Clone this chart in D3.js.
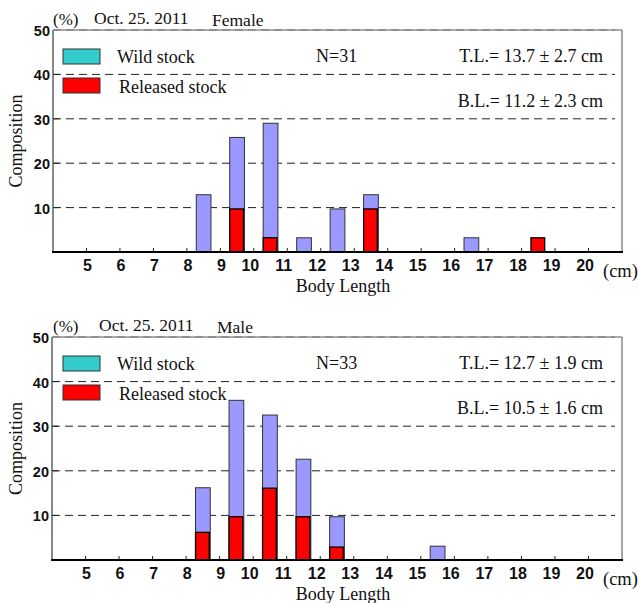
<!DOCTYPE html>
<html>
<head>
<meta charset="utf-8">
<script src="https://cdnjs.cloudflare.com/ajax/libs/d3/7.8.5/d3.min.js"></script>
<style>
  body { margin: 0; background: #fff; }
  text.serif { font-family: "Liberation Serif", "Times New Roman", Times, "DejaVu Serif", serif; fill: #111; }
  text.sans { font-family: "Liberation Sans", Arial, Helvetica, sans-serif; font-weight: bold; fill: #111; }
</style>
</head>
<body>
<div id="chart"></div>
<script>
var svgWidth = 638;
var svgHeight = 603;

// body length classes (lower edge, cm)
var tickValues = [5, 6, 7, 8, 9, 10, 11, 12, 13, 14, 15, 16, 17, 18, 19, 20];
var yTicks = [10, 20, 30, 40, 50];

// female, Oct. 25. 2011 (N=31)
var femaleBins = [8, 9, 10, 11, 12, 13, 16];
var femaleTotal = [12.9, 25.8, 29.0, 3.2, 9.7, 12.9, 3.2];
var femaleRelBins = [9, 10, 13, 18];
var femaleReleased = [9.7, 3.2, 9.7, 3.2];

// male, Oct. 25. 2011 (N=33)
var maleBins = [8, 9, 10, 11, 12, 15];
var maleTotal = [16.2, 35.8, 32.5, 22.6, 9.7, 3.1];
var maleRelBins = [8, 9, 10, 11, 12];
var maleReleased = [6.2, 9.7, 16.1, 9.7, 2.9];

var svg = d3.select("#chart")
  .append("svg")
  .attr("width", svgWidth)
  .attr("height", svgHeight);

function serifText(g, size) {
  return g.append("text")
    .attr("class", "serif")
    .style("font-size", size + "px");
}

function drawPanel(p) {
  var x = d3.scaleLinear().domain([4, 21]).range([p.left, 622]);
  var y = d3.scaleLinear().domain([0, 50]).range([p.bottom, p.top]);
  var g = svg.append("g");

  // top border
  g.append("line")
    .attr("x1", p.left).attr("x2", 622)
    .attr("y1", y(50)).attr("y2", y(50))
    .attr("stroke", "#aaa").attr("stroke-width", 2);

  // dashed grid
  g.selectAll(".grid")
    .data(yTicks)
    .enter()
    .append("line")
    .attr("x1", p.left).attr("x2", 615)
    .attr("y1", d => y(d)).attr("y2", d => y(d))
    .attr("stroke", d => d === 50 ? "#777" : "#222")
    .attr("stroke-width", 1)
    .attr("stroke-dasharray", "8,5");

  // total bars (blue)
  var totals = p.bins.map((b, i) => ({ b: b, v: p.total[i] }));
  g.selectAll(".tot")
    .data(totals)
    .enter()
    .append("rect")
    .attr("x", d => x(d.b + 0.28))
    .attr("width", d => x(d.b + 0.72) - x(d.b + 0.28))
    .attr("y", d => y(d.v))
    .attr("height", d => y(0) - y(d.v))
    .attr("fill", "#9999ff")
    .attr("stroke", "#333")
    .attr("stroke-width", 1);

  // released bars (red)
  var rel = p.relBins.map((b, i) => ({ b: b, v: p.released[i] }));
  g.selectAll(".rel")
    .data(rel)
    .enter()
    .append("rect")
    .attr("x", d => x(d.b + 0.28))
    .attr("width", d => x(d.b + 0.69) - x(d.b + 0.28))
    .attr("y", d => y(d.v))
    .attr("height", d => y(0) - y(d.v))
    .attr("fill", "#ff0000")
    .attr("stroke", "#000")
    .attr("stroke-width", 1.3);

  // left axis
  g.append("line")
    .attr("x1", p.left).attr("x2", p.left)
    .attr("y1", y(50)).attr("y2", y(0))
    .attr("stroke", "#888").attr("stroke-width", 2);
  // right border
  g.append("line")
    .attr("x1", 622).attr("x2", 622)
    .attr("y1", y(50)).attr("y2", y(0))
    .attr("stroke", "#888").attr("stroke-width", 1.5);

  // y ticks and labels
  g.selectAll(".ytick")
    .data(yTicks.slice(0, 4))
    .enter()
    .append("line")
    .attr("x1", p.left).attr("x2", p.left + 6)
    .attr("y1", d => y(d)).attr("y2", d => y(d))
    .attr("stroke", "#222");
  g.selectAll(".ylab")
    .data(yTicks)
    .enter()
    .append("text")
    .attr("class", "sans")
    .attr("x", p.left - 3)
    .attr("y", d => y(d) + 6)
    .attr("text-anchor", "end")
    .style("font-size", "14.5px")
    .text(d => d);

  // bottom axis
  g.append("line")
    .attr("x1", p.left - 1).attr("x2", 623)
    .attr("y1", y(0)).attr("y2", y(0))
    .attr("stroke", "#000").attr("stroke-width", 2);
  g.selectAll(".xtick")
    .data(tickValues)
    .enter()
    .append("line")
    .attr("x1", d => x(d)).attr("x2", d => x(d))
    .attr("y1", y(0)).attr("y2", y(0) - 4)
    .attr("stroke", "#222");
  g.selectAll(".xlab")
    .data(tickValues)
    .enter()
    .append("text")
    .attr("class", "sans")
    .attr("x", d => x(d) + (d < 10 ? 1 : -3.5))
    .attr("y", y(0) + 19)
    .attr("text-anchor", "middle")
    .style("font-size", "16px")
    .text(d => d);

  serifText(g, 18.5)
    .attr("x", 603).attr("y", y(0) + 25)
    .text("(cm)");
  serifText(g, 18)
    .attr("x", 343).attr("y", y(0) + 40)
    .attr("text-anchor", "middle")
    .text("Body Length");
  serifText(g, 18)
    .attr("transform", `translate(22, ${(y(0) + y(50)) / 2}) rotate(-90)`)
    .attr("text-anchor", "middle")
    .text("Composition");

  // title
  serifText(g, 17)
    .attr("x", 53).attr("y", y(50) - 5)
    .text("(%)");
  serifText(g, 17.5)
    .attr("x", p.dateX).attr("y", y(50) - 6)
    .text("Oct. 25. 2011");
  serifText(g, 17.5)
    .attr("x", p.sexX).attr("y", y(50) - 4)
    .text(p.sex);

  // legend
  g.append("rect")
    .attr("x", 63).attr("y", y(50) + 19).attr("width", 37).attr("height", 15)
    .attr("fill", "#33cccc").attr("stroke", "#333");
  g.append("rect")
    .attr("x", 63).attr("y", y(50) + 48).attr("width", 37).attr("height", 15)
    .attr("fill", "#ff0000").attr("stroke", "#333");
  serifText(g, 18)
    .attr("x", 117).attr("y", y(50) + 33)
    .text("Wild stock");
  serifText(g, 18)
    .attr("x", 119).attr("y", y(50) + 63)
    .text("Released stock");

  // stats
  serifText(g, 18)
    .attr("x", 316).attr("y", y(50) + 32)
    .text("N=" + p.n);
  serifText(g, 18)
    .attr("x", 603).attr("y", y(50) + 32)
    .attr("text-anchor", "end")
    .text(p.tl);
  serifText(g, 18)
    .attr("x", 603).attr("y", y(50) + 77)
    .attr("text-anchor", "end")
    .text(p.bl);
}

drawPanel({
  left: 53, top: 30, bottom: 252,
  bins: femaleBins, total: femaleTotal,
  relBins: femaleRelBins, released: femaleReleased,
  sex: "Female", dateX: 94, sexX: 212, n: 31,
  tl: "T.L.= 13.7 \u00b1 2.7 cm", bl: "B.L.= 11.2 \u00b1 2.3 cm"
});

drawPanel({
  left: 52, top: 337, bottom: 560,
  bins: maleBins, total: maleTotal,
  relBins: maleRelBins, released: maleReleased,
  sex: "Male", dateX: 99, sexX: 217, n: 33,
  tl: "T.L.= 12.7 \u00b1 1.9 cm", bl: "B.L.= 10.5 \u00b1 1.6 cm"
});
</script>
</body>
</html>
